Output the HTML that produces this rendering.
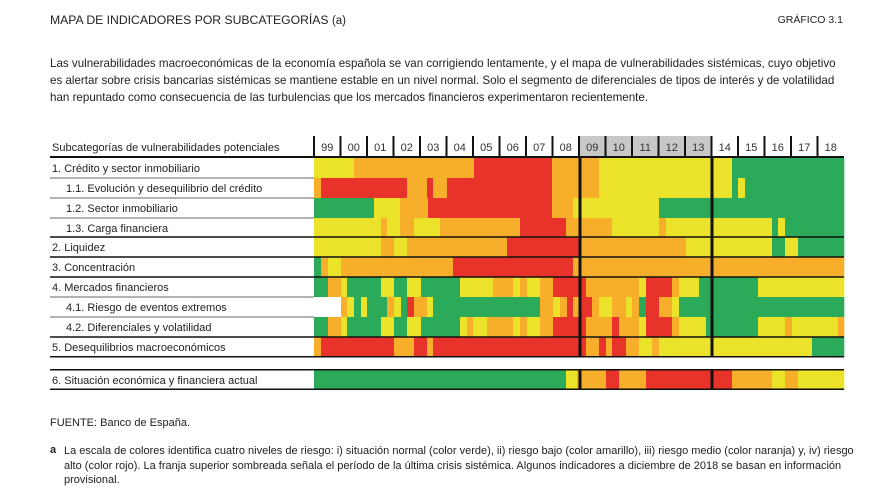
<!DOCTYPE html>
<html><head><meta charset="utf-8"><style>
body{margin:0;width:880px;height:495px;background:#fff;font-family:"Liberation Sans",sans-serif;color:#222;position:relative;overflow:hidden}
.t{position:absolute;white-space:nowrap}
p{margin:0}
</style></head><body>
<div class="t" style="left:50px;top:13px;font-size:12.2px;">MAPA DE INDICADORES POR SUBCATEGORÍAS <span style="font-size:11.5px">(a)</span></div>
<div class="t" style="right:37px;top:14px;font-size:10.5px;">GRÁFICO 3.1</div>
<div class="t" style="left:50px;top:55px;font-size:11.6px;line-height:17px;white-space:normal;width:796px;">Las vulnerabilidades macroeconómicas de la economía española se van corrigiendo lentamente, y el mapa de vulnerabilidades sistémicas, cuyo objetivo es alertar sobre crisis bancarias sistémicas se mantiene estable en un nivel normal. Solo el segmento de diferenciales de tipos de interés y de volatilidad han repuntado como consecuencia de las turbulencias que los mercados financieros experimentaron recientemente.</div>
<svg id="s" width="880" height="495" style="position:absolute;left:0;top:0" font-family="Liberation Sans, sans-serif"></svg>
<div class="t" style="left:50px;top:417px;font-size:11px;">FUENTE: Banco de España.</div>
<div class="t" style="left:50px;top:444px;font-size:11px;font-weight:bold">a</div>
<div class="t" style="left:64px;top:444px;font-size:11px;line-height:14.5px;white-space:normal;width:790px;">La escala de colores identifica cuatro niveles de riesgo: i) situación normal (color verde), ii) riesgo bajo (color amarillo), iii) riesgo medio (color naranja) y, iv) riesgo alto (color rojo). La franja superior sombreada señala el período de la última crisis sistémica. Algunos indicadores a diciembre de 2018 se basan en información provisional.</div>
<script>
var C={G:"#2bab5a",Y:"#ebe22a",O:"#f7ae2a",R:"#e8332a",W:"#ffffff"};
var rows=[
[158,178,"1. Crédito y sector inmobiliario",52,"Y314 O354 R474 O552 O580 Y599 G732"],
[178,198,"1.1. Evolución y desequilibrio del crédito",66,"O314 R321 O407 R427 O433 R447 O552 O580 Y599 G732 Y738 G745"],
[198,218,"1.2. Sector inmobiliario",66,"G314 Y374 O400 R428 O552 Y573 Y580 G659"],
[218,237,"1.3. Carga financiera",66,"Y314 O381 Y387 O400 Y414 O440 R520 O566 O580 Y612 O659 Y666 G772 Y778 G785"],
[237,257,"2. Liquidez",52,"Y314 O381 Y394 O407 R507 O580 Y686 G772 Y785 G798"],
[257,277,"3. Concentración",52,"G314 O321 Y328 O341 R453 O573"],
[277,297,"4. Mercados financieros",52,"G314 O328 Y341 G347 Y381 G394 Y407 G421 Y460 O493 Y513 O520 Y527 O540 R553 O586 Y639 R646 O672 Y679 G699 Y758"],
[297,317,"4.1. Riesgo de eventos extremos",66,"W314 O341 Y347 G354 Y361 G367 O387 Y394 G401 R407 O414 Y427 G433 O540 Y553 O560 R567 O573 R580 O592 Y599 O612 Y626 O632 G639 R646 O659 Y672 G679"],
[317,337,"4.2. Diferenciales y volatilidad",66,"G314 O328 Y341 G347 Y381 G394 Y407 G421 Y460 O467 Y473 O487 Y513 O520 Y527 O540 R553 R580 O586 R612 O619 Y639 R646 O672 Y679 G706 Y758 O785 Y792 O838"],
[337,357,"5. Desequilibrios macroeconómicos",52,"O314 R321 O394 R414 O427 R433 R580 O586 R599 O606 R612 O626 Y639 O652 Y659 G812"],
[370,389,"6. Situación económica y financiera actual",52,"G314 Y566 O577 R606 O619 R646 O732 Y772 O785 Y798"]
];
var h="";
h+='<text x="52" y="151" font-size="11" fill="#222">Subcategorías de vulnerabilidades potenciales</text>';
var yrs=["99","00","01","02","03","04","05","06","07","08","09","10","11","12","13","14","15","16","17","18"];
var cw=(844-314)/20;
for(var i=0;i<20;i++){var x=314+i*cw;
 if(i>=10&&i<=14)h+='<rect x="'+x+'" y="136" width="'+cw+'" height="21" fill="#c8c8c8"/>';
 h+='<rect x="'+(x-1)+'" y="136" width="2" height="21" fill="#111"/>';
 h+='<text x="'+(x+cw/2)+'" y="151" font-size="11" text-anchor="middle" fill="#333">'+yrs[i]+'</text>';}
h+='<rect x="50" y="156" width="794" height="2" fill="#111"/>';
rows.forEach(function(r){var segs=r[4].split(" ");
 for(var j=0;j<segs.length;j++){var c=segs[j][0],x0=+segs[j].slice(1),x1=j+1<segs.length?+segs[j+1].slice(1):844;
  h+='<rect x="'+x0+'" y="'+r[0]+'" width="'+(x1-x0+0.3)+'" height="'+(r[1]-r[0])+'" fill="'+C[c]+'"/>';}
 h+='<text x="'+r[3]+'" y="'+(r[0]+14)+'" font-size="11" fill="#222">'+r[2]+'</text>';
 h+='<rect x="50" y="'+(r[1]-0.5)+'" width="264" height="1" fill="#999"/>';
});
[237,257,277,337].forEach(function(y){h+='<rect x="50" y="'+(y-0.75)+'" width="794" height="1.5" fill="#111"/>';});
[178,198,218,297,317].forEach(function(y){h+='<rect x="50" y="'+(y-0.5)+'" width="264" height="1" fill="#666"/>';});
h+='<rect x="50" y="356" width="794" height="1.5" fill="#111"/>';
h+='<rect x="50" y="369" width="794" height="1.5" fill="#111"/>';
h+='<rect x="50" y="388.5" width="794" height="1.5" fill="#111"/>';
h+='<rect x="578.5" y="157" width="3" height="233" fill="#111"/>';
h+='<rect x="710.5" y="157" width="3" height="233" fill="#111"/>';
h+='<rect x="578.5" y="357.5" width="3" height="11.5" fill="#fff"/><rect x="710.5" y="357.5" width="3" height="11.5" fill="#fff"/>';
document.getElementById("s").innerHTML=h;
</script>
</body></html>
